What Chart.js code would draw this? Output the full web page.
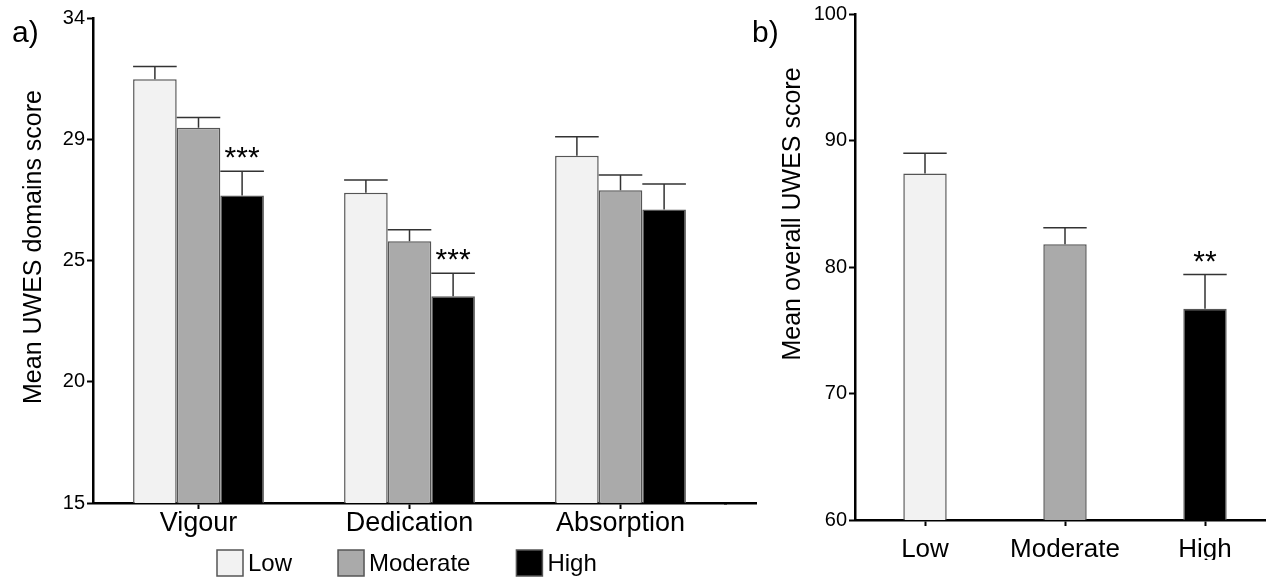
<!DOCTYPE html>
<html>
<head>
<meta charset="utf-8">
<script src="https://cdn.jsdelivr.net/npm/chart.js@4.4.0/dist/chart.umd.min.js"></script>
<style>
body { margin: 0; background: #fff; width: 1266px; height: 578px; overflow: hidden; position: relative; }
canvas { position: absolute; top: 0; }
#chartA { left: 0; }
#chartB { left: 740px; }
</style>
</head>
<body>
<canvas id="chartA" width="760" height="578"></canvas>
<canvas id="chartB" width="560" height="578"></canvas>
<script>
var domains = ["Vigour", "Dedication", "Absorption"];
var groups = ["Low", "Moderate", "High"];

// panel a) – mean domain scores and SEM
var domainLow = [31.6, 27.15, 28.6];
var domainModerate = [29.7, 25.25, 27.25];
var domainHigh = [27.05, 23.1, 26.5];
var domainLowErr = [0.5, 0.5, 0.75];
var domainModerateErr = [0.4, 0.45, 0.6];
var domainHighErr = [0.95, 0.9, 1.0];
var domainHighSig = ["***", "***", ""];
var domainTicks = [15, 34, 4.75];

// panel b) – overall score
var overall = [87.4, 81.8, 76.7];
var overallErr = [1.6, 1.3, 2.7];
var overallSig = ["", "", "**"];
var overallTicks = [60, 100, 10];

var groupColors = ["#f2f2f2", "#aaaaaa", "#000000"];
var FONT = 'Arial, "Liberation Sans", sans-serif';

Chart.defaults.font.family = FONT;
Chart.defaults.color = '#000';

var errorBars = {
    id: 'errorBars',
    afterDatasetsDraw: function(chart) {
        var ctx = chart.ctx;
        var yScale = chart.scales.y;
        ctx.save();
        chart.data.datasets.forEach(function(ds, i) {
            var meta = chart.getDatasetMeta(i);
            meta.data.forEach(function(bar, j) {
                var top = yScale.getPixelForValue(ds.data[j] + ds.errors[j]);
                var half = bar.width / 2;
                ctx.strokeStyle = '#333';
                ctx.lineWidth = 1.5;
                ctx.beginPath();
                ctx.moveTo(bar.x, bar.y);
                ctx.lineTo(bar.x, top);
                ctx.moveTo(bar.x - half, top);
                ctx.lineTo(bar.x + half, top);
                ctx.stroke();
                if (ds.sig && ds.sig[j]) {
                    ctx.fillStyle = '#000';
                    ctx.font = '30px ' + FONT;
                    ctx.textAlign = 'center';
                    ctx.textBaseline = 'alphabetic';
                    ctx.fillText(ds.sig[j], bar.x, top - 4);
                }
            });
        });
        ctx.restore();
    }
};

// panel letter, rotated y title, optional legend
function decorations(opts) {
    return {
        id: 'decorations',
        afterDraw: function(chart) {
            var ctx = chart.ctx;
            var area = chart.chartArea;
            ctx.save();
            ctx.fillStyle = '#000';
            ctx.font = '30px ' + FONT;
            ctx.textAlign = 'left';
            ctx.textBaseline = 'alphabetic';
            ctx.fillText(opts.letter, 12, 42);

            ctx.save();
            ctx.translate(opts.titleX, opts.titleY);
            ctx.rotate(-Math.PI / 2);
            ctx.font = '25px ' + FONT;
            ctx.textAlign = 'center';
            ctx.textBaseline = 'middle';
            ctx.fillText(opts.title, 0, 0);
            ctx.restore();

            if (opts.axisTo) {
                // same pixel alignment as the x axis border
                var by = Math.round(chart.scales.x.top - 1.25) + 1.25;
                ctx.strokeStyle = '#000';
                ctx.lineWidth = 2.5;
                ctx.beginPath();
                ctx.moveTo(area.right - 2, by);
                ctx.lineTo(opts.axisTo, by);
                ctx.stroke();
            }

            if (opts.legend) {
                var x = opts.legend.x;
                var y = opts.legend.y;
                ctx.font = '24px ' + FONT;
                ctx.textBaseline = 'middle';
                chart.data.datasets.forEach(function(ds) {
                    ctx.fillStyle = ds.backgroundColor;
                    ctx.fillRect(x, y, 26, 26);
                    ctx.strokeStyle = '#555';
                    ctx.lineWidth = 1.5;
                    ctx.strokeRect(x, y, 26, 26);
                    ctx.fillStyle = '#000';
                    ctx.fillText(ds.label, x + 31, y + 14);
                    x += 31 + ctx.measureText(ds.label).width + 46;
                });
            }
            ctx.restore();
        }
    };
}

function yAxis(t, width) {
    return {
        min: t[0],
        max: t[1],
        grid: { drawOnChartArea: false, tickLength: 6, tickColor: '#000', tickWidth: 2 },
        border: { color: '#000', width: 2.5 },
        ticks: {
            stepSize: t[2], color: '#000', font: { size: 20 }, padding: 2,
            callback: function(v) { return Math.round(v); }
        },
        afterFit: function(s) { s.width = width; }
    };
}

function xAxis(size, pad) {
    return {
        grid: { drawOnChartArea: false, offset: false, tickLength: 6, tickColor: '#000', tickWidth: 2 },
        border: { color: '#000', width: 2.5 },
        ticks: { color: '#000', font: { size: size }, padding: pad },
        afterFit: function(s) { s.height = 40; }
    };
}

var groupData = [domainLow, domainModerate, domainHigh];
var groupErr = [domainLowErr, domainModerateErr, domainHighErr];

new Chart(document.getElementById('chartA').getContext('2d'), {
    type: 'bar',
    data: {
        labels: domains,
        datasets: groups.map(function(g, i) {
            return {
                label: g,
                data: groupData[i],
                errors: groupErr[i],
                sig: i === 2 ? domainHighSig : null,
                backgroundColor: groupColors[i],
                borderColor: '#555',
                borderWidth: 1.5,
                barPercentage: 1,
                categoryPercentage: 0.62
            };
        })
    },
    options: {
        responsive: false,
        animation: false,
        layout: { padding: { top: 18, right: 34, bottom: 35, left: 0 } },
        plugins: { legend: { display: false }, tooltip: { enabled: false } },
        scales: { x: xAxis(27, -2), y: yAxis(domainTicks, 93) }
    },
    plugins: [errorBars, decorations({
        letter: 'a)', title: 'Mean UWES domains score', titleX: 34, titleY: 247,
        axisTo: 757, legend: { x: 217, y: 550 }
    })]
});

new Chart(document.getElementById('chartB').getContext('2d'), {
    type: 'bar',
    data: {
        labels: groups,
        datasets: [{
            label: 'Overall',
            data: overall,
            errors: overallErr,
            sig: overallSig,
            backgroundColor: groupColors,
            borderColor: '#555',
            borderWidth: 1.5,
            barPercentage: 0.31,
            categoryPercentage: 1
        }]
    },
    options: {
        responsive: false,
        animation: false,
        layout: { padding: { top: 10, right: 25, bottom: 18, left: 0 } },
        plugins: { legend: { display: false }, tooltip: { enabled: false } },
        scales: { x: xAxis(26, 8), y: yAxis(overallTicks, 115) }
    },
    plugins: [errorBars, decorations({
        letter: 'b)', title: 'Mean overall UWES score', titleX: 53, titleY: 214
    })]
});
</script>
</body>
</html>
